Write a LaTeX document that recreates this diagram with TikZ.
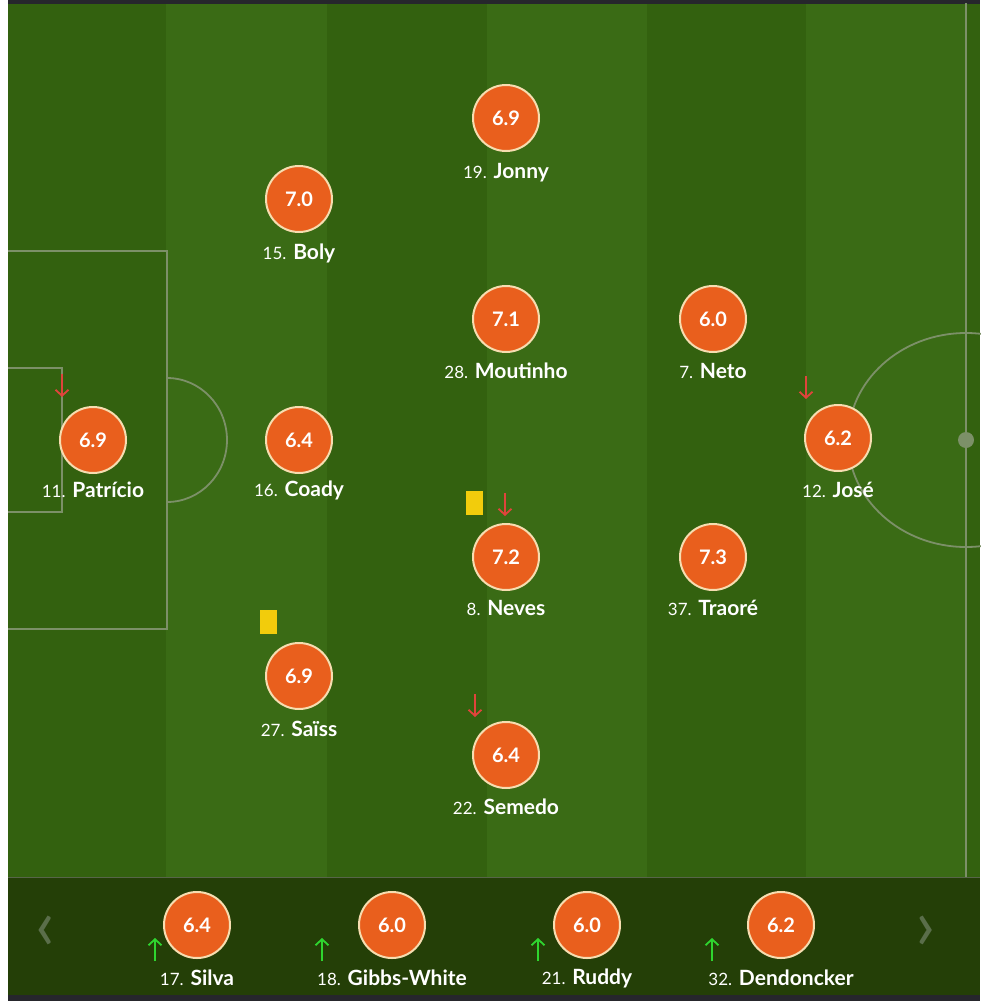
\documentclass[tikz,border=0pt]{standalone}
\usepackage{fontspec}
\setmainfont{Lato}
\usetikzlibrary{arrows.meta}
\definecolor{stripeA}{HTML}{33610F}
\definecolor{stripeB}{HTML}{3A6B15}
\definecolor{benchbg}{HTML}{243F07}
\definecolor{lineC}{HTML}{7C9068}
\definecolor{rateC}{HTML}{E95F1D}
\definecolor{rimC}{HTML}{F6DDB0}
\definecolor{cardC}{HTML}{F2CC0C}
\definecolor{outC}{HTML}{E0443C}
\definecolor{inC}{HTML}{2FD52F}
\definecolor{topC}{HTML}{26262C}
\definecolor{chevC}{HTML}{5A6E4A}
\tikzset{
  x=1pt,y=-1pt,
  pline/.style={draw=lineC,line width=1.8pt},
  rating/.style={circle,fill=rateC,draw=rimC,line width=2pt,minimum size=66pt,inner sep=0pt,text=white,font=\fontsize{20}{20}\selectfont\bfseries},
  plabel/.style={text=white,inner sep=0pt,font=\fontsize{21}{21}\selectfont\bfseries},
  ycard/.style={fill=cardC,draw=none,minimum width=17pt,minimum height=24pt,inner sep=0pt},
  outarrow/.style={draw=outC,line width=1.8pt,-{Straight Barb[length=6pt,width=13pt]}},
  inarrow/.style={draw=inC,line width=1.8pt,-{Straight Barb[length=6pt,width=13pt]}},
  chev/.style={text=chevC,inner sep=0pt,font=\fontsize{72}{72}\selectfont}
}
\newcommand{\pnum}[1]{{\fontsize{17}{17}\selectfont\mdseries #1}}
\begin{document}
\begin{tikzpicture}
\useasboundingbox (0,0) rectangle (980,1001);
\fill[white] (0,0) rectangle (980,1001);
% pitch stripes
\fill[stripeA] (8,3) rectangle (166,877);
\fill[stripeB] (166,3) rectangle (327,877);
\fill[stripeA] (327,3) rectangle (487,877);
\fill[stripeB] (487,3) rectangle (647,877);
\fill[stripeA] (647,3) rectangle (806,877);
\fill[stripeB] (806,3) rectangle (966,877);
\fill[stripeA] (966,3) rectangle (980,877);
\fill[topC] (8,0) rectangle (980,4);
% pitch lines
\draw[pline] (8,251) -- (167,251) -- (167,629) -- (8,629);
\draw[pline] (8,368) -- (62,368) -- (62,512) -- (8,512);
\draw[pline] (167,378) .. controls (200.1,378) and (227,405.8) .. (227,440)
  .. controls (227,474.2) and (200.1,502) .. (167,502);
\draw[pline] (966,3) -- (966,877);
\draw[pline] (966,440) ellipse[x radius=118,y radius=107];
\fill[lineC] (966,440) circle[radius=8];
% bench
\fill[benchbg] (8,877) rectangle (980,996);
\draw[draw=lineC!70!black,line width=1.5pt] (8,877.5) -- (980,877.5);
\fill[topC] (8,995) rectangle (980,1001);
\node[chev] (prev) at (46,933) {‹};
\node[chev] (next) at (926,933) {›};
% players
\node[rating] (patricio) at (93,440) {6.9};
\node[plabel] (patricioL) at (93,490) {\pnum{11.} Patrício};
\node[rating] (boly) at (299,199) {7.0};
\node[plabel] (bolyL) at (299,253) {\pnum{15.} Boly};
\node[rating] (coady) at (299,440) {6.4};
\node[plabel] (coadyL) at (299,490) {\pnum{16.} Coady};
\node[rating] (saiss) at (299,676) {6.9};
\node[plabel] (saissL) at (299,729) {\pnum{27.} Saïss};
\node[rating] (jonny) at (506,118) {6.9};
\node[plabel] (jonnyL) at (506,173) {\pnum{19.} Jonny};
\node[rating] (moutinho) at (506,319) {7.1};
\node[plabel] (moutinhoL) at (506,371) {\pnum{28.} Moutinho};
\node[rating] (neves) at (506,557) {7.2};
\node[plabel] (nevesL) at (506,608) {\pnum{8.} Neves};
\node[rating] (semedo) at (506,755) {6.4};
\node[plabel] (semedoL) at (506,807) {\pnum{22.} Semedo};
\node[rating] (neto) at (713,319) {6.0};
\node[plabel] (netoL) at (713,371) {\pnum{7.} Neto};
\node[rating] (traore) at (713,557) {7.3};
\node[plabel] (traoreL) at (713,608) {\pnum{37.} Traoré};
\node[rating] (jose) at (838,438) {6.2};
\node[plabel] (joseL) at (838,490) {\pnum{12.} José};
% cards
\node[ycard] (cardSaiss) at (268,622) {};
\node[ycard] (cardNeves) at (474,503) {};
% sub-off arrows
\coordinate (a1s) at (62,374); \coordinate (a1e) at (62,397);
\draw[outarrow] (a1s) -- (a1e);
\coordinate (a2s) at (806,376); \coordinate (a2e) at (806,399);
\draw[outarrow] (a2s) -- (a2e);
\coordinate (a3s) at (505,493); \coordinate (a3e) at (505,516);
\draw[outarrow] (a3s) -- (a3e);
\coordinate (a4s) at (475,694); \coordinate (a4e) at (475,717);
\draw[outarrow] (a4s) -- (a4e);
% substitutes
\node[rating] (silva) at (197,925) {6.4};
\node[plabel] (silvaL) at (197,978) {\pnum{17.} Silva};
\node[rating] (gibbs) at (392,925) {6.0};
\node[plabel] (gibbsL) at (392,978) {\pnum{18.} Gibbs-White};
\node[rating] (ruddy) at (587,925) {6.0};
\node[plabel] (ruddyL) at (587,978) {\pnum{21.} Ruddy};
\node[rating] (dend) at (781,925) {6.2};
\node[plabel] (dendL) at (781,978) {\pnum{32.} Dendoncker};
\coordinate (b1s) at (155,961); \coordinate (b1e) at (155,938);
\draw[inarrow] (b1s) -- (b1e);
\coordinate (b2s) at (322,961); \coordinate (b2e) at (322,938);
\draw[inarrow] (b2s) -- (b2e);
\coordinate (b3s) at (538,961); \coordinate (b3e) at (538,938);
\draw[inarrow] (b3s) -- (b3e);
\coordinate (b4s) at (712,961); \coordinate (b4e) at (712,938);
\draw[inarrow] (b4s) -- (b4e);
\end{tikzpicture}
\end{document}
